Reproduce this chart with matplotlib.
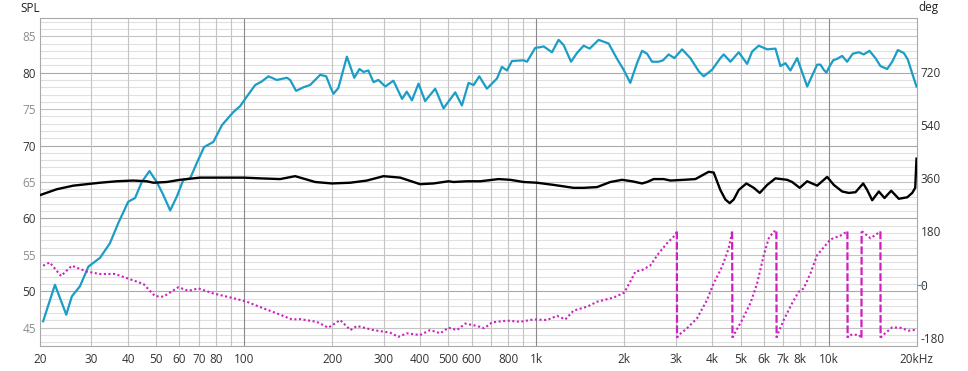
import numpy as np
import matplotlib
matplotlib.use("Agg")
import matplotlib.pyplot as plt
from matplotlib.ticker import FixedLocator, NullLocator
from matplotlib.transforms import blended_transform_factory

plt.rcParams['font.family'] = ['Open Sans', 'DejaVu Sans']

# SPL response (blue), Hz / dB
spl_freq = [20.5, 22.5, 24.6, 25.7, 27.4, 29.3, 32.1, 34.7, 37.1, 40.1,
            42.3, 44.6, 47.4, 50.2, 52.6, 55.8, 58.8, 61.9, 65.3, 68.8,
            72.9, 78.4, 83.9, 91.8, 96.8, 102, 109, 114.9, 121, 129.3,
            140, 143.6, 150.5, 159.5, 168, 182, 190.8, 197, 202, 210,
            224.6, 238, 248, 256, 266, 277, 288, 304, 324, 347,
            360, 375, 395, 416, 450.6, 481, 527.6, 556, 586, 609.6,
            637.6, 677, 733, 762, 793, 825, 904, 929, 991, 1032,
            1059, 1131, 1191, 1239, 1314, 1377, 1451, 1522, 1633, 1767,
            1888, 1989, 2096, 2210, 2300, 2392, 2488, 2622, 2714, 2836,
            2968, 3152, 3365, 3594, 3738, 3994, 4263, 4378, 4614, 4926,
            5264, 5476, 5768, 6166, 6580, 6844, 7118, 7404, 7808, 8449,
            9141, 9383, 9628, 9836, 10000, 10370, 10702, 11130, 11578, 12100,
            12690, 13200, 13804, 14472, 15058, 15874, 16516, 17260, 18097, 18676,
            19334, 20000]
spl_db = [45.9, 50.9, 46.8, 49.3, 50.7, 53.4, 54.6, 56.6, 59.4, 62.3,
          62.8, 65.0, 66.5, 65.0, 63.4, 61.1, 63.0, 65.3, 65.5, 67.6,
          69.8, 70.5, 72.8, 74.6, 75.4, 76.7, 78.3, 78.8, 79.5, 79.0,
          79.3, 79.0, 77.5, 78.0, 78.3, 79.7, 79.5, 78.1, 77.1, 77.9,
          82.2, 79.3, 80.5, 80.1, 80.3, 78.7, 79.0, 78.1, 78.9, 76.4,
          77.4, 76.2, 78.5, 76.1, 77.8, 75.1, 77.3, 75.5, 78.6, 78.3,
          79.5, 77.8, 79.2, 80.8, 80.3, 81.6, 81.7, 81.5, 83.4, 83.5,
          83.6, 82.8, 84.5, 83.8, 81.5, 82.7, 83.7, 83.3, 84.5, 84.0,
          81.9, 80.4, 78.6, 81.3, 83.0, 82.6, 81.5, 81.5, 81.7, 82.5,
          82.0, 83.2, 82.0, 80.2, 79.5, 80.4, 82.0, 82.5, 81.5, 82.8,
          81.2, 82.9, 83.7, 83.2, 83.3, 80.9, 81.3, 80.3, 82.0, 78.1,
          81.1, 81.1, 80.4, 80.0, 80.6, 81.7, 81.9, 82.3, 81.5, 82.6,
          82.8, 82.5, 83.0, 82.0, 80.9, 80.5, 81.5, 83.1, 82.7, 81.8,
          79.9, 78.1]

# second response (black), Hz / dB
blk_freq = [20, 22.8, 26, 32.1, 36.6, 41.7, 46.4, 48.9, 54.3, 60.3, 70.6, 80.6, 99.4, 113.4,
            132.7, 149.4, 174.9, 199.6, 230.6, 263, 299.8, 342, 400, 444.6, 500, 520.6, 578.6,
            642.6, 742, 814, 904, 1005, 1146, 1341, 1451, 1613, 1791, 1964, 2126, 2300, 2392,
            2520, 2726, 2876, 3192, 3502, 3888, 4044, 4263, 4435, 4588, 4736, 4926, 5234, 5546,
            5814, 6166, 6580, 7216, 7505, 7968, 8449,
            9141, 9892, 10422, 11130, 11726, 12364, 13140, 13560, 14106, 14860,
            15542, 16384, 17396, 18588, 19334, 19800, 20000]
blk_db = [63.2, 64.0, 64.5, 64.9, 65.1, 65.2, 65.1, 64.9, 65.0, 65.3, 65.6, 65.6, 65.6, 65.5,
          65.4, 65.8, 65.0, 64.8, 64.9, 65.2, 65.8, 65.6, 64.7, 64.8, 65.1, 65.0, 65.1,
          65.1, 65.4, 65.3, 65.0, 64.9, 64.6, 64.2, 64.2, 64.3, 65.0, 65.3, 65.1, 64.8, 65.0,
          65.4, 65.4, 65.2, 65.3, 65.4, 66.4, 66.3, 63.9, 62.6, 62.1, 62.6, 63.9, 64.8, 64.2,
          63.5, 64.6, 65.5, 65.3, 65.0, 64.2, 65.1,
          64.5, 65.7, 64.6, 63.7, 63.5, 63.6, 64.8, 63.9, 62.5, 63.7,
          62.8, 63.8, 62.7, 62.9, 63.5, 64.2, 68.2]

# phase (magenta), Hz / deg, wrapped to +-180
ph_freq = [20.5, 21.6, 23.6, 25.7, 28.9, 32.1, 36.1, 40.7, 45.2, 49.5, 52.9, 59.5, 64.4, 69.7,
           78.4, 91.8, 102, 116, 129, 145.6, 155.4, 177, 194, 213, 231, 243, 277, 316, 337, 360,
           400, 433, 469, 500, 535, 571, 626, 663, 705, 793, 881, 978, 1087, 1177, 1256, 1341,
           1491, 1613, 1838, 2000, 2096, 2182, 2300, 2455, 2622, 2800, 2990, 3025, 3030, 3070,
           3278, 3548, 3838, 4044, 4322, 4552, 4676, 4690, 4772, 5060, 5402, 5696, 6002, 6242,
           6492, 6628, 6640, 6718, 7022, 7505, 7907, 8222, 8670, 9141, 9628, 10152, 10985,
           11600, 11620, 11726, 12690, 12960, 12980, 13100, 13920, 15050, 15070, 15250, 16500,
           17600, 18800, 20000]
ph_deg = [64, 75, 29, 64, 44, 36, 36, 18, 2, -39, -41, -9, -21, -13,
          -30, -46, -58, -80, -97, -118, -117, -126, -146, -120, -154, -140, -154, -163, -177, -165,
          -171, -154, -165, -146, -154, -132, -140, -148, -128, -122, -126, -118, -120, -106, -118, -88,
          -75, -58, -44, -27, 10, 44, 49, 65, 106, 140, 168, 180, -180, -171,
          -148, -114, -52, 4, 61, 123, 180, -180, -165, -120, -63, 4, 100, 157,
          180, 180, -180, -165, -120, -63, -24, -13, 38, 100, 126, 153, 166,
          180, -180, -170, -170, -180, 180, 178, 157, 180, -180, -174, -145,
          -146, -156, -153]

x_ticks = [20, 30, 40, 50, 60, 70, 80, 100, 200, 300, 400, 500, 600, 800,
           1000, 2000, 3000, 4000, 5000, 6000, 7000, 8000, 10000, 20000]
x_labels = ['20', '30', '40', '50', '60', '70', '80', '100', '200', '300', '400', '500', '600', '800',
            '1k', '2k', '3k', '4k', '5k', '6k', '7k', '8k', '10k', '20kHz']
spl_ticks = [45, 50, 55, 60, 65, 70, 75, 80, 85]
deg_ticks = [-180, 0, 180, 360, 540, 720]

BLUE = '#1b9dc6'
MAGENTA = '#cc20bf'

fig = plt.figure(figsize=(9.68, 3.71), dpi=100)
ax = fig.add_axes([40 / 968, 25 / 371, 876.5 / 968, 328 / 371])
ax.set_xscale('log')
ax2 = ax.twinx()
ax.set_xlim(20, 20000)
ax.set_ylim(42.5, 87.5)
ax2.set_ylim(-208, 903)

# grid: horizontal every dB, vertical 1-2-3..9 per decade
for v in range(43, 88):
    if v % 10 == 0:
        c = '#a9a9a9'
    elif v % 5 == 0:
        c = '#c4c4c4'
    else:
        c = '#e0e0e0'
    ax.axhline(v, color=c, lw=0.8, zorder=0)
for dec in [10, 100, 1000, 10000]:
    for m in range(1, 10):
        f = dec * m
        if f <= 20 or f >= 20000:
            continue
        c = '#8a8a8a' if m == 1 else '#c4c4c4'
        ax.axvline(f, color=c, lw=0.8, zorder=0)

for s in ax.spines.values():
    s.set_color('#a8a8a8')
    s.set_linewidth(0.8)
for s in ax2.spines.values():
    s.set_visible(False)

ax.plot(spl_freq, spl_db, color=BLUE, lw=1.6, solid_joinstyle='round', zorder=4)
ax.plot(blk_freq, blk_db, color='black', lw=1.7, solid_joinstyle='round', zorder=5)

# phase on right axis, dotted trace with dashed wrap jumps
pf = np.array(ph_freq, dtype=float)
pd_ = np.array(ph_deg, dtype=float)
jumps = np.where(np.abs(np.diff(pd_)) > 300)[0]
start = 0
for j in list(jumps) + [len(pf) - 1]:
    ax2.plot(pf[start:j + 1], pd_[start:j + 1], color=MAGENTA, lw=1.5,
             linestyle=(0, (1, 1.2)), zorder=3)
    if j < len(pf) - 1:
        ax2.plot(pf[j:j + 2], pd_[j:j + 2], color=MAGENTA, lw=1.6,
                 linestyle=(0, (3.5, 1.2)), zorder=3)
    start = j + 1

ax.set_xlim(20, 20000)
ax.xaxis.set_major_locator(FixedLocator(x_ticks))
ax.xaxis.set_minor_locator(NullLocator())
ax.set_xticklabels(x_labels)
ax.set_yticks(spl_ticks)
ax.tick_params(axis='both', which='both', length=0, labelsize=8.5, labelcolor='#333333')
ax.tick_params(axis='x', pad=5)
ax.tick_params(axis='y', pad=3)
for lab, v in zip(ax.get_yticklabels(), spl_ticks):
    lab.set_color('#333333' if v % 10 == 0 else '#8c8c8c')

ax2.set_yticks(deg_ticks)
ax2.set_yticklabels([str(t) for t in deg_ticks])
ax2.tick_params(axis='y', length=0, labelsize=8.5, labelcolor='#333333', pad=3)

# small blue tick at 0 deg
tr = blended_transform_factory(ax2.transAxes, ax2.transData)
ax2.plot([1.002, 1.008], [0, 0], color='#5b8fd0', lw=0.9, transform=tr, clip_on=False)

fig.text(20 / 968, 1 - 8 / 371, 'SPL', fontsize=8.5, color='#222222', va='center', ha='left')
fig.text(918 / 968, 1 - 8 / 371, 'deg', fontsize=8.5, color='#222222', va='center', ha='left')

fig.savefig('out.png', dpi=100, facecolor='white')
